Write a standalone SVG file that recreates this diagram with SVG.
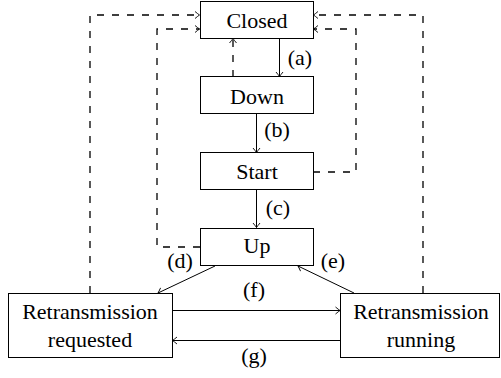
<svg xmlns="http://www.w3.org/2000/svg" width="501" height="378" viewBox="0 0 501 378">
  <style>
    .box { fill: #fff; stroke: #000; stroke-width: 1; }
    .lbl { font-size: 22px; fill: #000; text-anchor: middle; }
    .edge { fill: none; stroke: #000; stroke-width: 1; }
    .solid { marker-end: url(#tip); }
    .dash { stroke-width: 1.3; stroke-dasharray: 7 8; marker-end: url(#tip); }
  </style>
  <defs>
    <marker id="tip" viewBox="-6 -5 8 10" markerWidth="8" markerHeight="10" refX="0" refY="0" orient="auto" markerUnits="userSpaceOnUse">
      <path d="M -4.5 -3.5 Q -1.5 -1 0 0 Q -1.5 1 -4.5 3.5" fill="none" stroke="#000" stroke-width="0.9" stroke-dasharray="none"/>
    </marker>
  </defs>

  <g font-family="'Liberation Serif', 'Times New Roman', serif">
  <g id="connectors">
    <!-- main chain -->
    <line class="edge solid" x1="279.5" y1="38" x2="279.5" y2="76.5"/>
    <line class="edge dash" x1="233" y1="77" x2="233" y2="38.5"/>
    <line class="edge solid" x1="256.5" y1="113" x2="256.5" y2="152.5"/>
    <line class="edge solid" x1="256.5" y1="190" x2="256.5" y2="227.5"/>
    <!-- fallbacks to Closed -->
    <path class="edge dash" d="M 313 172 H 356 V 29 H 313.5"/>
    <path class="edge dash" d="M 200 247 H 157 V 29 H 199.5"/>
    <path class="edge dash" d="M 90 293 V 15 H 199.5"/>
    <path class="edge dash" d="M 423 293 V 15 H 313.5"/>
    <!-- retransmission -->
    <line class="edge solid" x1="215" y1="266" x2="158" y2="293"/>
    <line class="edge solid" x1="354" y1="293" x2="298" y2="266"/>
    <line class="edge solid" x1="172" y1="310.5" x2="340" y2="310.5"/>
    <line class="edge solid" x1="340" y1="340.5" x2="172.5" y2="340.5"/>
    <!-- labels -->
    <text class="lbl" x="300" y="65">(a)</text>
    <text class="lbl" x="277" y="137">(b)</text>
    <text class="lbl" x="278" y="215">(c)</text>
    <text class="lbl" x="180" y="268">(d)</text>
    <text class="lbl" x="333" y="268">(e)</text>
    <text class="lbl" x="254" y="297">(f)</text>
    <text class="lbl" x="254" y="363">(g)</text>
  </g>

  <g id="closed">
    <rect class="box" x="200.5" y="1.5" width="113" height="37"/>
    <text class="lbl" x="257" y="28">Closed</text>
  </g>
  <g id="down">
    <rect class="box" x="200.5" y="76.5" width="113" height="37"/>
    <text class="lbl" x="257" y="104">Down</text>
  </g>
  <g id="start">
    <rect class="box" x="200.5" y="152.5" width="113" height="37"/>
    <text class="lbl" x="257" y="179">Start</text>
  </g>
  <g id="up">
    <rect class="box" x="200.5" y="228.5" width="113" height="37"/>
    <text class="lbl" x="257" y="253">Up</text>
  </g>
  <g id="retransmission-requested">
    <rect class="box" x="8.5" y="293.5" width="164" height="64"/>
    <text class="lbl" x="90" y="319">Retransmission</text>
    <text class="lbl" x="90" y="347">requested</text>
  </g>
  <g id="retransmission-running">
    <rect class="box" x="340.5" y="293.5" width="159" height="64"/>
    <text class="lbl" x="421" y="319">Retransmission</text>
    <text class="lbl" x="421" y="347">running</text>
  </g>
  </g>
</svg>
